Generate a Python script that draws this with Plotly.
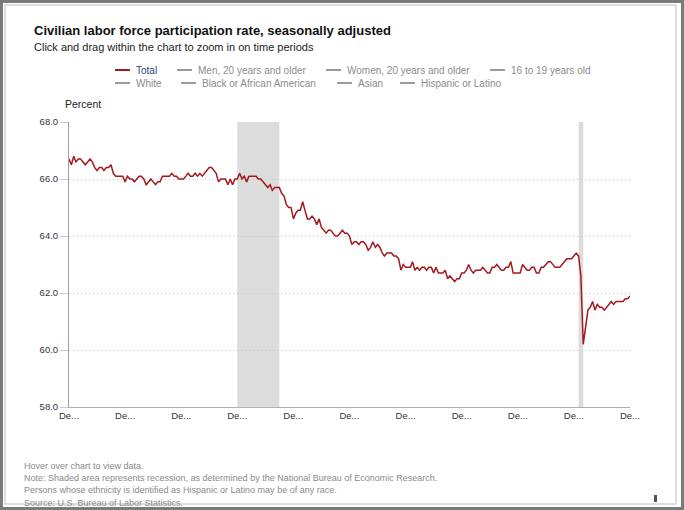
import pandas as pd
import plotly.graph_objects as go

# Civilian labor force participation rate, monthly, Dec 2001 - Dec 2021
START = "2001-12-01"
RATE = [
    66.7,
    66.5, 66.8, 66.6, 66.7, 66.7, 66.6, 66.5, 66.6, 66.7, 66.6, 66.4, 66.3,  # 2002
    66.4, 66.4, 66.3, 66.4, 66.4, 66.5, 66.2, 66.1, 66.1, 66.1, 66.1, 65.9,  # 2003
    66.1, 66.0, 66.0, 65.9, 66.0, 66.1, 66.1, 66.0, 65.8, 65.9, 66.0, 65.9,  # 2004
    65.8, 65.9, 65.9, 66.1, 66.1, 66.1, 66.1, 66.2, 66.1, 66.1, 66.0, 66.0,  # 2005
    66.0, 66.1, 66.2, 66.1, 66.1, 66.2, 66.1, 66.2, 66.1, 66.2, 66.3, 66.4,  # 2006
    66.4, 66.3, 66.2, 65.9, 66.0, 66.0, 66.0, 65.8, 66.0, 65.8, 66.0, 66.0,  # 2007
    66.2, 66.0, 66.1, 65.9, 66.1, 66.1, 66.1, 66.1, 66.0, 66.0, 65.9, 65.8,  # 2008
    65.7, 65.8, 65.6, 65.7, 65.7, 65.7, 65.5, 65.4, 65.1, 65.0, 65.0, 64.6,  # 2009
    64.8, 64.9, 64.9, 65.2, 64.9, 64.6, 64.6, 64.7, 64.6, 64.4, 64.6, 64.3,  # 2010
    64.2, 64.1, 64.2, 64.2, 64.1, 64.0, 64.0, 64.1, 64.2, 64.1, 64.1, 64.0,  # 2011
    63.7, 63.8, 63.8, 63.7, 63.8, 63.8, 63.7, 63.5, 63.6, 63.8, 63.6, 63.7,  # 2012
    63.6, 63.4, 63.3, 63.4, 63.4, 63.4, 63.3, 63.3, 63.2, 62.8, 63.0, 62.9,  # 2013
    62.9, 62.9, 63.1, 62.8, 62.9, 62.8, 62.9, 62.9, 62.8, 62.9, 62.9, 62.7,  # 2014
    62.9, 62.7, 62.7, 62.7, 62.8, 62.5, 62.6, 62.5, 62.4, 62.5, 62.5, 62.7,  # 2015
    62.7, 62.8, 63.0, 62.8, 62.7, 62.8, 62.8, 62.8, 62.9, 62.8, 62.7, 62.7,  # 2016
    62.9, 62.9, 63.0, 62.9, 62.8, 62.8, 62.9, 62.9, 63.1, 62.7, 62.7, 62.7,  # 2017
    62.7, 63.0, 62.9, 62.8, 62.8, 62.9, 62.9, 62.7, 62.7, 62.9, 62.9, 63.0,  # 2018
    63.1, 63.1, 63.0, 62.9, 62.9, 62.9, 63.0, 63.1, 63.2, 63.2, 63.2, 63.3,  # 2019
    63.4, 63.3, 62.6, 60.2, 60.8, 61.4, 61.5, 61.7, 61.4, 61.6, 61.5, 61.5,  # 2020
    61.4, 61.5, 61.6, 61.7, 61.6, 61.7, 61.7, 61.7, 61.7, 61.8, 61.8, 61.9,  # 2021
]

RECESSIONS = [("2007-12-01", "2009-06-01"), ("2020-02-01", "2020-04-01")]

SERIES = ["Total", "Men, 20 years and older", "Women, 20 years and older",
          "16 to 19 years old", "White", "Black or African American",
          "Asian", "Hispanic or Latino"]

X_TICKS = ["2001-12-01", "2003-12-01", "2005-12-01", "2007-12-01", "2009-12-01",
           "2011-12-01", "2013-12-01", "2015-12-01", "2017-12-01", "2019-12-01",
           "2021-12-01"]
Y_TICKS = [58.0, 60.0, 62.0, 64.0, 66.0, 68.0]

NOTES = [
    "Hover over chart to view data.",
    "Note: Shaded area represents recession, as determined by the National Bureau of Economic Research.",
    "Persons whose ethnicity is identified as Hispanic or Latino may be of any race.",
    "Source: U.S. Bureau of Labor Statistics.",
]

W, H = 684, 510
L, R, T, B = 69, 54, 122, 103
PW, PH = W - L - R, H - T - B
FONT = "Liberation Sans"


def px(x):
    # figure pixel -> paper x
    return (x - L) / PW


def py(y):
    # figure pixel (from top) -> paper y
    return (H - B - y) / PH


dates = pd.date_range(START, periods=len(RATE), freq="MS")

fig = go.Figure()
fig.add_trace(go.Scatter(
    x=dates, y=RATE, mode="lines", name="Total",
    line=dict(color="#a3191f", width=1.5),
    hovertemplate="%{x|%b %Y}: %{y:.1f}<extra></extra>",
))

shapes = []
for x0, x1 in RECESSIONS:
    shapes.append(dict(type="rect", xref="x", yref="paper", x0=x0, x1=x1, y0=0, y1=1,
                       fillcolor="#dcdcdc", line=dict(width=0), layer="between"))

# frame around the widget
shapes.append(dict(type="rect", xref="paper", yref="paper",
                   x0=px(1.5), x1=px(682.5), y0=py(1.5), y1=py(508.5),
                   line=dict(color="#7a7a7a", width=3)))
shapes.append(dict(type="rect", xref="paper", yref="paper",
                   x0=px(5), x1=px(676), y0=py(5), y1=py(504),
                   line=dict(color="#d2d2d2", width=1.5)))
shapes.append(dict(type="rect", xref="paper", yref="paper",
                   x0=px(654), x1=px(657), y0=py(495), y1=py(502),
                   fillcolor="#555", line=dict(width=0)))

annotations = [
    dict(text="<b>Civilian labor force participation rate, seasonally adjusted</b>",
         x=px(32), y=py(30), xanchor="left", yanchor="middle",
         font=dict(family=FONT, size=13, color="#111")),
    dict(text="Click and drag within the chart to zoom in on time periods",
         x=px(32), y=py(47), xanchor="left", yanchor="middle",
         font=dict(family=FONT, size=11, color="#222")),
    dict(text="Percent", x=px(63), y=py(104), xanchor="left", yanchor="middle",
         font=dict(family=FONT, size=10.5, color="#222")),
]

# legend, two rows like the original widget
legend_pos = [(115, 70), (177, 70), (326, 70), (490, 70),
              (115, 83), (181, 83), (337, 83), (400, 83)]
for name, (lx, ly) in zip(SERIES, legend_pos):
    active = name == "Total"
    shapes.append(dict(type="line", xref="paper", yref="paper",
                       x0=px(lx), x1=px(lx + 15), y0=py(ly), y1=py(ly),
                       line=dict(color="#a3191f" if active else "#9a9a9a", width=2)))
    annotations.append(dict(text=name, x=px(lx + 19), y=py(ly), xanchor="left",
                            yanchor="middle",
                            font=dict(family=FONT, size=10,
                                      color="#2e3f7a" if active else "#8c8c8c")))

for i, note in enumerate(NOTES):
    annotations.append(dict(text=note, x=px(22), y=py(466 + 12.2 * i), xanchor="left",
                            yanchor="middle",
                            font=dict(family=FONT, size=9, color="#8a8a8a")))

for a in annotations:
    a.update(xref="paper", yref="paper", showarrow=False)

fig.update_layout(
    width=W, height=H,
    margin=dict(l=L, r=R, t=T, b=B),
    paper_bgcolor="white", plot_bgcolor="white",
    showlegend=False,
    shapes=shapes,
    annotations=annotations,
    xaxis=dict(
        type="date", range=[dates[0], dates[-1]],
        tickvals=X_TICKS, ticktext=["De..."] * len(X_TICKS),
        showgrid=False, ticks="", showline=True, linecolor="#b0b0b0", linewidth=1,
        tickfont=dict(family=FONT, size=9.5, color="#333"),
    ),
    yaxis=dict(
        range=[58, 68], tickvals=Y_TICKS, tickformat=".1f",
        showgrid=True, gridcolor="#c4c4c4", griddash="1px,3px", gridwidth=1,
        zeroline=False, showline=True, linecolor="#a0a0a0", linewidth=1,
        ticks="outside", ticklen=8, tickcolor="#b9cde0",
        tickfont=dict(family=FONT, size=9.5, color="#333"),
    ),
)

# drop the browser's default page margin so the figure sits at the window corner
fig.write_html("out.html", config={"displayModeBar": False},
               post_script="document.body.style.margin='0';")
